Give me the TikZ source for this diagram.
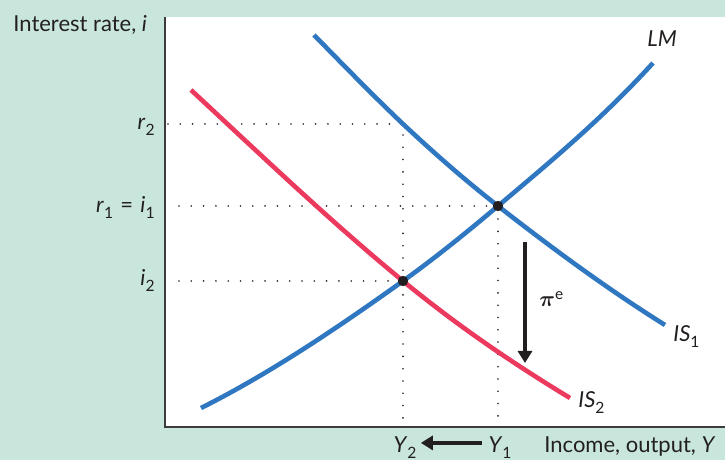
\documentclass[tikz,border=0pt]{standalone}
\usepackage{amsmath}
\usepackage{fontspec}
\setmainfont{Lato}
\usetikzlibrary{arrows.meta, positioning}
\definecolor{bgmint}{RGB}{201,230,220}
\definecolor{lmblue}{RGB}{47,120,193}
\definecolor{isred}{RGB}{236,58,95}
\definecolor{axisgray}{RGB}{60,60,60}
\definecolor{inkgray}{RGB}{35,31,32}
\newcommand{\lo}[1]{\raisebox{-2.8pt}{\fontsize{7.8}{8}\selectfont #1}}

\begin{document}
\begin{tikzpicture}[x=0.5pt, y=-0.5pt, font=\fontsize{11}{13}\selectfont,
    curve/.style={line width=2.3pt},
    guide/.style={inkgray, line width=0.9pt, line cap=round, dash pattern=on 0pt off 6.15pt},
    movearrow/.style={inkgray, line width=2.3pt, -{Triangle[width=7pt,length=6pt]}},
    eqdot/.style={circle, fill=inkgray, inner sep=0pt, minimum size=5.2pt},
    lbl/.style={inner sep=0pt, text=inkgray}]
    \useasboundingbox (0,0) rectangle (725,460);
    % background and plot area
    \fill[bgmint] (0,0) rectangle (725,460);
    \fill[white] (165,17) rectangle (725,427);
    \draw[axisgray, line width=0.75pt] (165,17) |- (725,427);

    % equilibrium points and guide ends
    \coordinate (E1) at (498,206);
    \coordinate (E2) at (403,281);
    \coordinate (top2) at (403,124);
    \coordinate (r2axis) at (168,124);
    \coordinate (r1axis) at (179,206);
    \coordinate (i2axis) at (179,281);
    \coordinate (Y2foot) at (403,420);
    \coordinate (Y1foot) at (498,420);

    % dotted guides
    \draw[guide] (r2axis) -- (top2) -- (Y2foot);
    \draw[guide] (r1axis) -- (E1) -- (Y1foot);
    \draw[guide] (i2axis) -- (E2);

    % LM
    \draw[curve, lmblue] (201,408) .. controls (268,374.5) and (336,329) .. (E2)
        .. controls (435,258) and (466,233) .. (E1)
        .. controls (550,162) and (601,120) .. (653,63);
    % IS_1
    \draw[curve, lmblue] (314,35) .. controls (344,65.6) and (373,95.5) .. (top2)
        .. controls (435,154) and (466,181) .. (E1)
        .. controls (554,249.7) and (609,290) .. (665,325);
    % IS_2
    \draw[curve, isred] (191,90) .. controls (262,156) and (332,222.8) .. (E2)
        .. controls (459,327) and (514,364) .. (570,398);

    \node[eqdot] at (E1) {};
    \node[eqdot] at (E2) {};

    % curve labels
    \node[lbl, anchor=base west] (lm) at (647,47) {\textit{LM}};
    \node[lbl, anchor=base west] (is1) at (673,342) {\textit{IS}\lo{1}};
    \node[lbl, anchor=base west] (is2) at (578,408) {\textit{IS}\lo{2}};

    % axis labels
    \node[lbl, anchor=base west] (ylabel) at (13,32) {Interest rate, \textit{i}};
    \node[lbl, anchor=base west] (xlabel) at (544,453) {Income, output, \textit{Y}};
    \node[lbl, anchor=base east] (r2) at (155,130) {\textit{r}\lo{2}};
    \node[lbl, anchor=base east] (r1) at (155,213) {\textit{r}\lo{1}\,\,=\,\,\textit{i}\lo{1}};
    \node[lbl, anchor=base east] (i2) at (155,286) {\textit{i}\lo{2}};
    \node[lbl, anchor=base] (y2) at (405,453) {\textit{Y}\lo{2}};
    \node[lbl, anchor=base] (y1) at (500,453) {\textit{Y}\lo{1}};

    % shift of IS and of output
    \coordinate (pitop) at (525,242);
    \coordinate (pibot) at (525,363);
    \draw[movearrow] (pitop) -- (pibot);
    \node[lbl, anchor=base west] (pie) at (539,307) {$\boldsymbol{\pi}$\textsuperscript{e}};
    \draw[movearrow, shorten >=2pt, shorten <=3pt] (y1.west) ++(0,-5) coordinate (y1w) -- (y1w -| y2.east);

\end{tikzpicture}
\end{document}
